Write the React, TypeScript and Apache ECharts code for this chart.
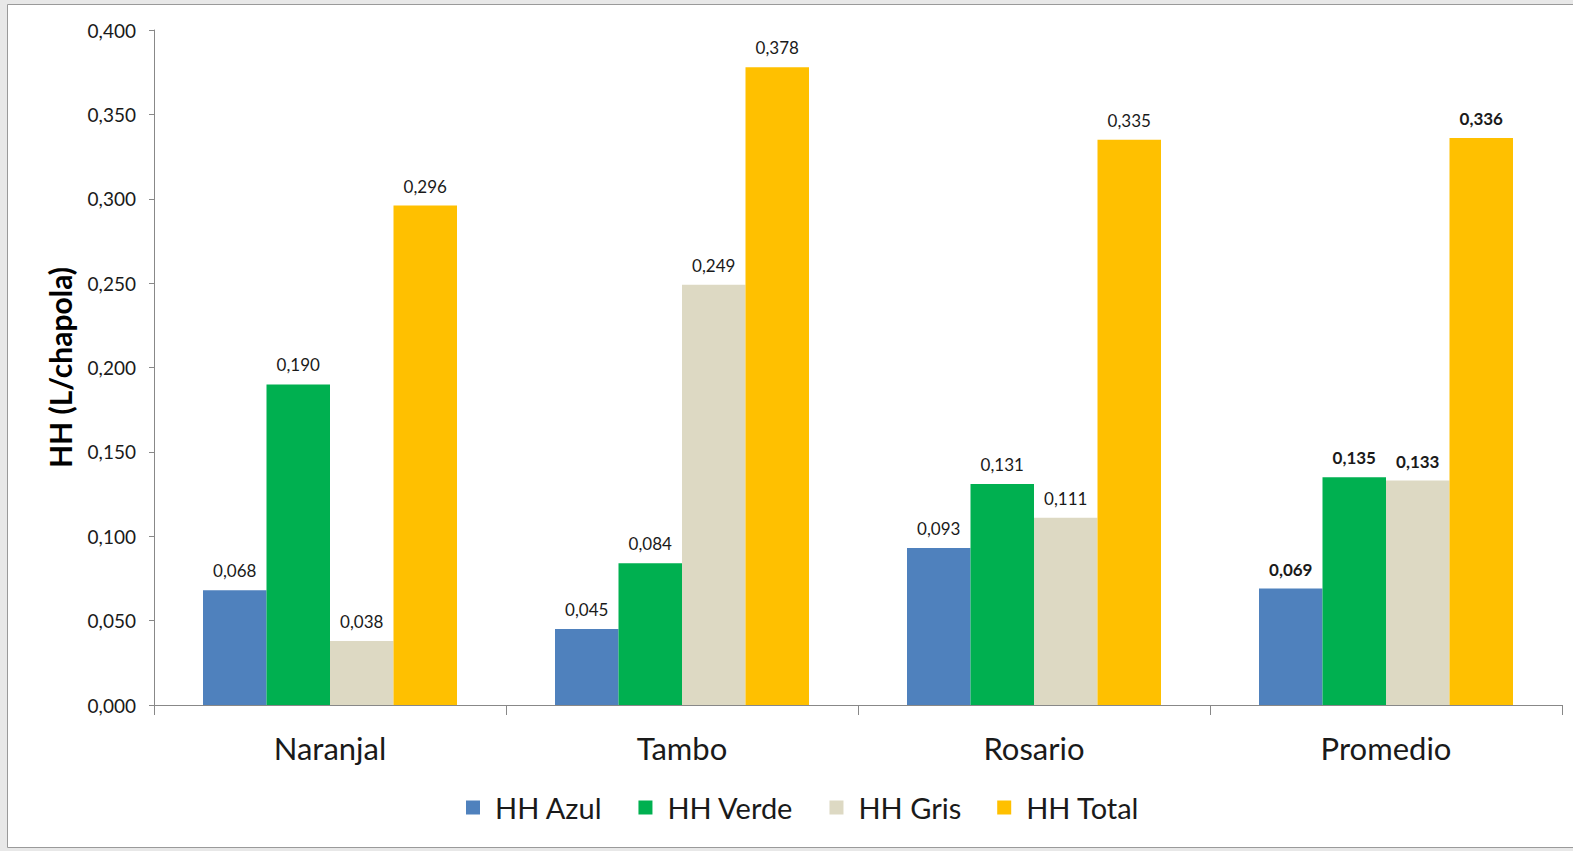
import React, { useEffect, useRef } from "react";
import * as echarts from "echarts";

const categories = ["Naranjal", "Tambo", "Rosario", "Promedio"];
const seriesNames = ["HH Azul", "HH Verde", "HH Gris", "HH Total"];
const azul = [0.068, 0.045, 0.093, 0.069];
const verde = [0.19, 0.084, 0.131, 0.135];
const gris = [0.038, 0.249, 0.111, 0.133];
const total = [0.296, 0.378, 0.335, 0.336];
const colors = ["#4F81BD", "#00B050", "#DDD9C3", "#FFC000"];

const fmt = (v: number) => v.toFixed(3).replace(".", ",");

export default function App() {
  const ref = useRef<HTMLDivElement>(null);
  useEffect(() => {
    if (!ref.current) return;
    const chart = echarts.init(ref.current, undefined, { renderer: "svg" });
    const values = [azul, verde, gris, total];
    const font = "Lato, 'Open Sans', sans-serif";
    chart.setOption({
      animation: false,
      backgroundColor: "#e8e8e8",
      textStyle: { fontFamily: font },
      graphic: [
        {
          type: "rect",
          shape: { x: 7.5, y: 4.5, width: 1600, height: 843 },
          style: { fill: "#ffffff", stroke: "#9a9a9a", lineWidth: 1 },
          z: -10,
        },
      ],
      grid: { left: 154, right: 11, top: 30, bottom: 146, containLabel: false },
      legend: {
        top: 788,
        left: 461,
        itemWidth: 14,
        itemHeight: 14,
        itemGap: 36,
        icon: "rect",
        textStyle: { fontSize: 29, color: "#1a1a1a", fontFamily: font, padding: [0, 0, 0, 10] },
        data: seriesNames,
      },
      xAxis: {
        type: "category",
        data: categories,
        axisLine: { lineStyle: { color: "#888888", width: 1 } },
        axisTick: { show: true, length: 10, lineStyle: { color: "#888888" } },
        axisLabel: { fontSize: 31, color: "#1a1a1a", margin: 27, fontFamily: font },
      },
      yAxis: {
        type: "value",
        min: 0,
        max: 0.4,
        interval: 0.05,
        name: "HH (L/chapola)",
        nameLocation: "middle",
        nameGap: 79,
        nameTextStyle: { fontSize: 30, fontWeight: "bold", color: "#000000", fontFamily: font },
        axisLine: { show: true, lineStyle: { color: "#888888" } },
        axisTick: { show: true, length: 5, lineStyle: { color: "#888888" } },
        splitLine: { show: false },
        axisLabel: {
          fontSize: 19,
          color: "#1a1a1a",
          margin: 18,
          formatter: (v: number) => fmt(v),
        },
      },
      series: values.map((arr, i) => ({
        name: seriesNames[i],
        type: "bar",
        barWidth: 63.5,
        barGap: "0%",
        itemStyle: { color: colors[i] },
        data: arr.map((v, j) => ({
          value: v,
          label: j === 3 ? { fontWeight: "bold" } : undefined,
        })),
        label: {
          show: true,
          position: "top",
          distance: 11,
          fontSize: 17,
          color: "#1a1a1a",
          fontFamily: font,
          formatter: (p: any) => fmt(p.value),
        },
      })),
    });
    return () => chart.dispose();
  }, []);
  return (
    <div
      ref={ref}
      style={{ position: "fixed", left: 0, top: 0, width: 1573, height: 851 }}
    />
  );
}
